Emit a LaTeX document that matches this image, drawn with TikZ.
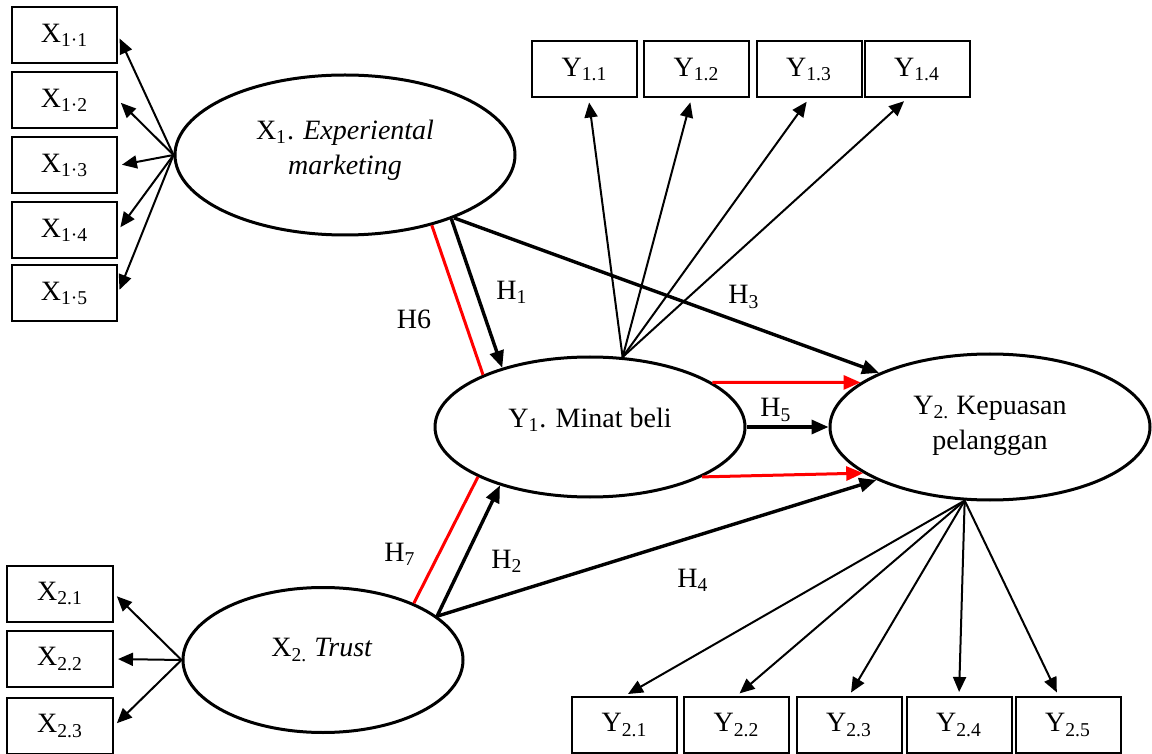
\documentclass[tikz,border=0pt]{standalone}
\usepackage{fontspec}
\setmainfont{Liberation Serif}
\usetikzlibrary{arrows.meta,shapes.geometric}
\begin{document}
\begin{tikzpicture}[x=0.5pt,y=-0.5pt,
  font=\fontsize{14}{17.5}\selectfont,
  ind/.style={draw, line width=1pt, minimum width=52.5pt, minimum height=28pt, inner sep=0pt},
  lat/.style={draw, ellipse, line width=1.5pt, inner sep=0pt},
  arr/.style={line width=1pt, -{Triangle[length=7.5pt,width=6.5pt]}, shorten >=2pt},
  hyp/.style={line width=1.7pt, -{Triangle[length=8.5pt,width=7pt]}},
  redarr/.style={red, line width=1.5pt, -{Triangle[length=8.5pt,width=7pt]}},
  redline/.style={red, line width=1.5pt},
  lbl/.style={inner sep=0pt, align=center}]
\useasboundingbox[fill=white] (0,0) rectangle (1152,754);

% latent variables
\node[lat, minimum width=170pt, minimum height=80pt] (x1) at (345,155) {};
\node[lbl] (x1t) at (345,150) {X\textsubscript{1}. \textit{Experiental}\\\textit{marketing}};
\node[lat, minimum width=155pt, minimum height=70pt] (y1) at (590,427) {};
\node[lbl] (y1t) at (590,420) {Y\textsubscript{1}. Minat beli};
\node[lat, minimum width=160pt, minimum height=73pt] (y2) at (990,427) {};
\node[lbl] (y2t) at (990,426) {Y\textsubscript{2.} Kepuasan\\pelanggan};
\node[lat, minimum width=140pt, minimum height=72.5pt] (x2) at (323,660) {};
\node[lbl] (x2t) at (322,650) {X\textsubscript{2.} \textit{Trust}};

% X1 indicators
\node[ind] (x11) at (64.5,35) {X\textsubscript{1·1}};
\node[ind] (x12) at (64.5,100) {X\textsubscript{1·2}};
\node[ind] (x13) at (64.5,165.5) {X\textsubscript{1·3}};
\node[ind] (x14) at (64.5,230.5) {X\textsubscript{1·4}};
\node[ind] (x15) at (64.5,293.5) {X\textsubscript{1·5}};
% X2 indicators
\node[ind, minimum width=53pt] (x21) at (60,593.5) {X\textsubscript{2.1}};
\node[ind, minimum width=53pt] (x22) at (60,659) {X\textsubscript{2.2}};
\node[ind, minimum width=53pt] (x23) at (60,726) {X\textsubscript{2.3}};
% Y1 indicators
\node[ind] (y11) at (584.5,69.5) {Y\textsubscript{1.1}};
\node[ind] (y12) at (696.5,69.5) {Y\textsubscript{1.2}};
\node[ind] (y13) at (809,69.5) {Y\textsubscript{1.3}};
\node[ind] (y14) at (917,69.5) {Y\textsubscript{1.4}};
% Y2 indicators
\node[ind] (y21) at (624.5,725) {Y\textsubscript{2.1}};
\node[ind] (y22) at (736.5,725) {Y\textsubscript{2.2}};
\node[ind] (y23) at (849,725) {Y\textsubscript{2.3}};
\node[ind] (y24) at (959,725) {Y\textsubscript{2.4}};
\node[ind] (y25) at (1068,725) {Y\textsubscript{2.5}};

% indicator arrows
\foreach \n in {x11,x12,x13,x14,x15} \draw[arr] (x1.west) -- (\n.east);
\foreach \n in {x21,x22,x23} \draw[arr] (x2.west) -- (\n.east);
\draw[arr] (y1.65) -- (y11.-82);
\draw[arr] (y1.65) -- (y12.-100);
\draw[arr] (y1.65) -- (y13.south);
\draw[arr] (y1.65) -- (y14.-109);
\draw[arr] (y2.-109) -- (y21.north);
\draw[arr] (y2.-109) -- (y22.north);
\draw[arr] (y2.-109) -- (y23.north);
\draw[arr] (y2.-109) -- (y24.north);
\draw[arr] (y2.-109) -- (y25.108);

% structural paths
\draw[redline] (x1.-39) -- (y1.154);
\draw[hyp] (x1.-31) -- (y1.146);
\draw[hyp] (x1.-30) -- (y2.154);
\draw[redarr] (y1.20) -- (y2.161);
\draw[hyp] (y1.east) -- (y2.west);
\draw[redarr] (y1.-24) -- (y2.200);
\draw[redline] (x2.32) -- (y1.204);
\draw[hyp] (x2.21) -- (y1.213);
\draw[hyp] (x2.21) -- (y2.205);

% labels
\node[lbl] (h6) at (414,319) {H6};
\node[lbl] (h1) at (512,292) {H\textsubscript{1}};
\node[lbl] (h3) at (744,297) {H\textsubscript{3}};
\node[lbl] (h5) at (776,410) {H\textsubscript{5}};
\node[lbl] (h7) at (400,554) {H\textsubscript{7}};
\node[lbl] (h2) at (507,561) {H\textsubscript{2}};
\node[lbl] (h4) at (693,580) {H\textsubscript{4}};
\end{tikzpicture}
\end{document}
